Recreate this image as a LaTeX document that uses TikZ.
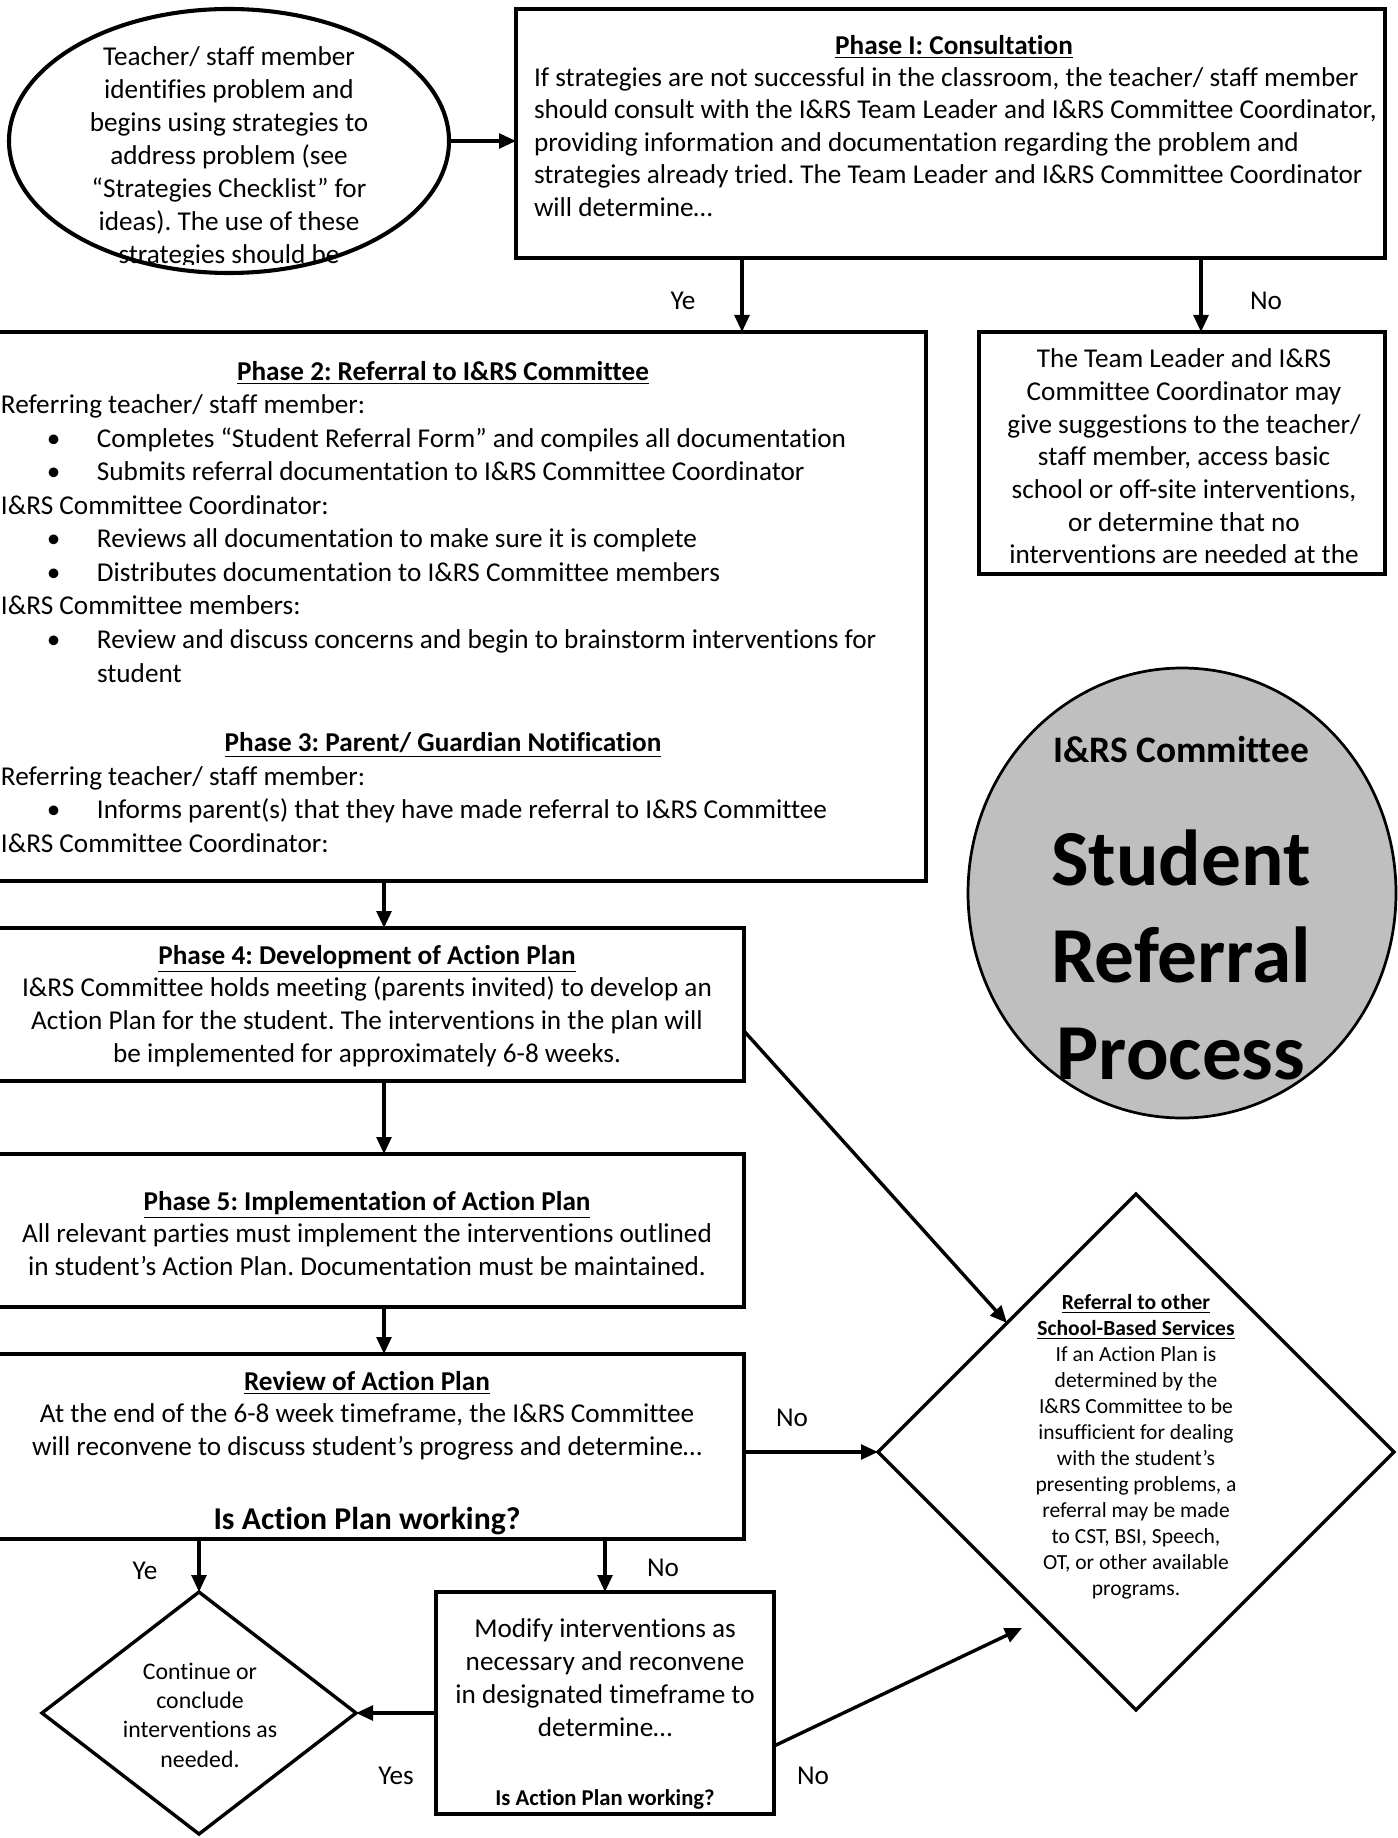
\documentclass[tikz,border=0pt]{standalone}
\usepackage{fontspec}
\setmainfont{Carlito}[Ligatures=NoCommon]
\usetikzlibrary{arrows.meta,shapes.geometric}
\definecolor{circgray}{HTML}{BFBFBF}
\newlength\pxu
\setlength\pxu{0.0155cm}
\newcommand\fsz[2]{\fontsize{#1}{#2}\selectfont}
\newcommand\ttl[1]{\underline{\textbf{#1}}}
\newcommand\bulitem{\hspace*{46\pxu}\makebox[50\pxu][l]{•}}
\frenchspacing

\begin{document}
\begin{tikzpicture}[x=1\pxu, y=-1\pxu, >={Triangle[length=7.5pt,width=6.5pt]},
  every node/.style={inner sep=0pt, outer sep=0pt},
  box/.style={draw, line width=1.5pt},
  body/.style={font=\fsz{12}{14.5}, align=center, anchor=north},
  flow/.style={->, line width=1.5pt},
  yesno/.style={font=\fsz{12}{14.5}}]
  \useasboundingbox (0,0) rectangle (1397,1838);

  % shapes
  \node[box, ellipse, line width=1.8pt, minimum width=440\pxu, minimum height=264\pxu] (start) at (229,141) {};
  \node[box, minimum width=869\pxu, minimum height=249\pxu] (consult) at (950.5,133.5) {};
  \node[box, minimum width=956\pxu, minimum height=549\pxu] (referral) at (448,606.5) {};
  \node[box, minimum width=406\pxu, minimum height=242\pxu] (advise) at (1182,453) {};
  \node[box, ellipse, fill=circgray, line width=1.2pt, minimum width=428\pxu, minimum height=450\pxu] (badge) at (1182,893) {};
  \node[box, minimum width=774\pxu, minimum height=153\pxu] (plan) at (357,1004.5) {};
  \node[box, minimum width=774\pxu, minimum height=153\pxu] (implement) at (357,1230.5) {};
  \node[box, minimum width=774\pxu, minimum height=185\pxu] (review) at (357,1446.5) {};
  \node[box, diamond, minimum width=516\pxu, minimum height=516\pxu] (other) at (1136,1452) {};
  \node[box, diamond, minimum width=314\pxu, minimum height=242\pxu] (conclude) at (199,1713) {};
  \node[box, minimum width=338\pxu, minimum height=222\pxu] (modify) at (605,1703) {};

  % texts
  \begin{scope}
    \clip (0,0) rectangle (449,265);
    \node[body, font=\fsz{12}{14.55}] (starttext) at (229,47)
      {Teacher/ staff member\\ identifies problem and\\ begins using strategies to\\ address problem (see\\
       “Strategies Checklist” for\\ ideas). The use of these\\ strategies should be};
  \end{scope}
  \node[body, font=\fsz{12}{14.3}, align=left, anchor=north west] (consulttext) at (534,35)
    {\makebox[840\pxu]{\ttl{Phase I: Consultation}}\\
     If strategies are not successful in the classroom, the teacher/ staff member\\
     should consult with the I\&RS Team Leader and I\&RS Committee Coordinator,\\
     providing information and documentation regarding the problem and\\
     strategies already tried. The Team Leader and I\&RS Committee Coordinator\\
     will determine…};
  \node[body, font=\fsz{12}{14.8}, align=left, anchor=north west] (referraltext) at (1,361)
    {\makebox[884\pxu]{\ttl{Phase 2: Referral to I\&RS Committee}}\\
     Referring teacher/ staff member:\\
     \bulitem Completes “Student Referral Form” and compiles all documentation\\
     \bulitem Submits referral documentation to I\&RS Committee Coordinator\\
     I\&RS Committee Coordinator:\\
     \bulitem Reviews all documentation to make sure it is complete\\
     \bulitem Distributes documentation to I\&RS Committee members\\
     I\&RS Committee members:\\
     \bulitem Review and discuss concerns and begin to brainstorm interventions for\\
     \hspace*{96\pxu}student\\[16pt]
     \makebox[884\pxu]{\ttl{Phase 3: Parent/ Guardian Notification}}\\
     Referring teacher/ staff member:\\
     \bulitem Informs parent(s) that they have made referral to I\&RS Committee\\
     I\&RS Committee Coordinator:};
  \begin{scope}
    \clip (advise.south west) rectangle (advise.north east);
    \node[body, font=\fsz{12}{14.4}] (advisetext) at (1184,349)
      {The Team Leader and I\&RS\\ Committee Coordinator may\\ give suggestions to the teacher/\\
       staff member, access basic\\ school or off-site interventions,\\ or determine that no\\
       interventions are needed at the};
  \end{scope}
  \node[font=\fsz{16.5}{20}\bfseries] (badgetitle) at (1181,750) {I\&RS Committee};
  \node[body, font=\fsz{35}{42.8}\bfseries] (badgetext) at (1181,830) {Student\\ Referral\\ Process};
  \begin{scope}
    \clip (plan.south west) rectangle (plan.north east);
    \node[body] (plantext) at (367,945)
      {\ttl{Phase 4: Development of Action Plan}\\
       I\&RS Committee holds meeting (parents invited) to develop an\\
       Action Plan for the student. The interventions in the plan will\\
       be implemented for approximately 6-8 weeks.};
  \end{scope}
  \node[body] (implementtext) at (367,1191)
    {\ttl{Phase 5: Implementation of Action Plan}\\
     All relevant parties must implement the interventions outlined\\
     in student’s Action Plan. Documentation must be maintained.};
  \begin{scope}
    \clip (review.south west) rectangle (review.north east);
    \node[body] (reviewtext) at (367,1371)
      {\ttl{Review of Action Plan}\\
       At the end of the 6-8 week timeframe, the I\&RS Committee\\
       will reconvene to discuss student’s progress and determine…\\[18pt]
       {\fsz{14}{17}\bfseries Is Action Plan working?}};
  \end{scope}
  \node[body, font=\fsz{9.5}{11.5}] (othertext) at (1136,1294)
    {\ttl{Referral to other}\\ \ttl{School-Based Services}\\ If an Action Plan is\\ determined by the\\
     I\&RS Committee to be\\ insufficient for dealing\\ with the student’s\\ presenting problems, a\\
     referral may be made\\ to CST, BSI, Speech,\\ OT, or other available\\ programs.};
  \node[body, font=\fsz{10.5}{12.9}] (concludetext) at (200,1663)
    {Continue or\\ conclude\\ interventions as\\ needed.};
  \node[body] (modifytext) at (605,1619)
    {Modify interventions as\\ necessary and reconvene\\ in designated timeframe to\\ determine…\\[16pt]
     {\fsz{10}{12}\bfseries Is Action Plan working?}};

  % connectors
  \draw[flow] (start.east) -- (start.east -| consult.west);
  \draw[flow] (consult.south -| 742,0) -- (referral.north -| 742,0);
  \draw[flow] (consult.south -| 1201,0) -- (advise.north -| 1201,0);
  \draw[flow] (referral.south -| 384,0) -- (plan.north -| 384,0);
  \draw[flow] (plan.south -| 384,0) -- (implement.north -| 384,0);
  \draw[flow] (implement.south -| 384,0) -- (review.north -| 384,0);
  \draw[flow] (plan.east |- 0,1031) -- (other.north west);
  \draw[flow] (review.east |- other.west) -- (other.west);
  \draw[flow] (review.south -| conclude.north) -- (conclude.north);
  \draw[flow] (review.south -| modify.north) -- (modify.north);
  \draw[flow] (modify.west |- conclude.east) -- (conclude.east);
  \coordinate (otherlow) at (1022,1628);
  \draw[flow] (modify.east |- 0,1746) -- (otherlow);

  % yes / no labels
  \node[yesno] (yeConsult) at (683,301) {Ye};
  \node[yesno] (noConsult) at (1266,301) {No};
  \node[yesno] (noReview) at (792,1418) {No};
  \node[yesno] (yeReview) at (145,1571) {Ye};
  \node[yesno] (noModify) at (663,1568) {No};
  \node[yesno] (yesModify) at (396,1776) {Yes};
  \node[yesno] (noOther) at (813,1776) {No};
\end{tikzpicture}
\end{document}
